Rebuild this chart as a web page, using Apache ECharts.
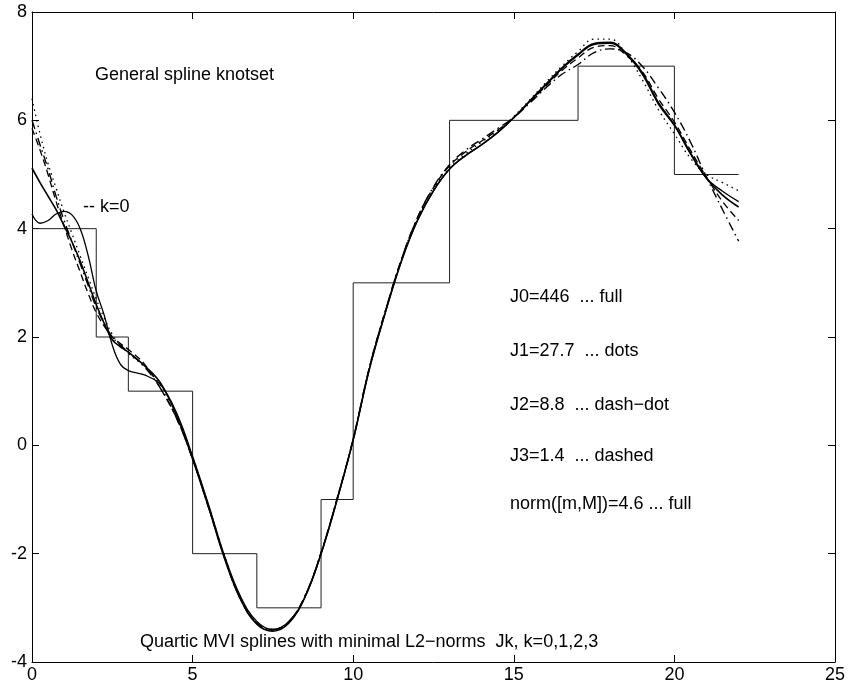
<!DOCTYPE html>
<html lang="en">
<head>
    <meta charset="UTF-8">
    <script src="https://cdn.jsdelivr.net/npm/echarts@6/dist/echarts.min.js"></script>
    <title>Quartic MVI splines</title>
</head>
<style>
    body{
        width: 100%;
        height: 100%;
        margin: 0;
        padding: 0;
        background: #fff;
    }
</style>
<body>
<div id="chart" style="width: 848px;height:689px;"></div>
</body>
<script>
    // knotset: step function (value holds from x to next x)
    var stepX = [0, 2, 3, 5, 7, 9, 10, 13, 17, 20, 22];
    var stepY = [4, 2, 1, -2, -3, -1, 3, 6, 7, 5, 5];

    // sample points of the spline curves
    var xs = [0, 0.25, 0.5, 0.75, 1, 1.25, 1.5, 1.75, 2, 2.25, 2.5, 2.75, 3,
        3.5, 4, 4.5, 5, 5.5, 6, 6.5, 7, 7.5, 8, 8.5, 9, 9.5, 10, 10.5, 11, 11.5,
        12, 12.5, 13, 13.5, 14, 14.5, 15, 15.5, 16, 16.5, 17, 17.5, 18, 18.5,
        19, 19.5, 20, 20.5, 21, 21.5, 22];

    // J0 ... full
    var j0 = [4.27, 4.1, 4.15, 4.27, 4.32, 4.25, 4.0, 3.5, 2.85, 2.4, 1.85, 1.5, 1.38,
        1.3, 1.12, 0.6, -0.2, -1.1, -2.05, -2.8, -3.25, -3.4, -3.25, -2.8, -2.0, -1.0, 0.1, 1.4, 2.45, 3.4,
        4.15, 4.7, 5.1, 5.35, 5.55, 5.77, 6.05, 6.35, 6.65, 6.95, 7.2, 7.4, 7.42, 7.22,
        6.85, 6.3, 5.9, 5.38, 4.93, 4.69, 4.5];
    // J1 ... dots
    var j1 = [6.4, 5.75, 5.2, 4.75, 4.3, 3.9, 3.5, 3.1, 2.7, 2.35, 2.05, 1.85, 1.7,
        1.45, 1.1, 0.55, -0.22, -1.12, -2.05, -2.82, -3.27, -3.42, -3.27, -2.8, -2.0, -1.0, 0.1, 1.42, 2.47, 3.42,
        4.17, 4.72, 5.12, 5.38, 5.6, 5.8, 6.07, 6.38, 6.7, 7.0, 7.27, 7.5, 7.5, 7.22,
        6.75, 6.2, 5.75, 5.3, 5.0, 4.85, 4.7];
    // J2 ... dash-dot
    var j2 = [6.0, 5.55, 5.1, 4.6, 4.15, 3.75, 3.35, 2.95, 2.55, 2.25, 2.0, 1.85, 1.72,
        1.45, 1.05, 0.5, -0.25, -1.15, -2.08, -2.85, -3.28, -3.4, -3.25, -2.78, -1.98, -0.98, 0.12, 1.43, 2.48, 3.43,
        4.2, 4.77, 5.18, 5.45, 5.65, 5.85, 6.05, 6.32, 6.6, 6.85, 7.03, 7.25, 7.32, 7.25,
        7.0, 6.6, 6.15, 5.6, 4.95, 4.35, 3.77];
    // J3 ... dashed
    var j3 = [5.85, 5.45, 5.0, 4.5, 4.05, 3.6, 3.2, 2.8, 2.45, 2.2, 2.0, 1.88, 1.77,
        1.5, 1.05, 0.5, -0.25, -1.15, -2.08, -2.85, -3.28, -3.4, -3.25, -2.78, -1.98, -0.98, 0.12, 1.43, 2.48, 3.43,
        4.2, 4.76, 5.16, 5.42, 5.62, 5.82, 6.05, 6.34, 6.63, 6.92, 7.15, 7.35, 7.38, 7.2,
        6.9, 6.4, 5.97, 5.45, 4.95, 4.5, 4.15];
    // norm([m,M]) ... full
    var jn = [5.12, 4.85, 4.6, 4.35, 4.05, 3.75, 3.4, 3.0, 2.6, 2.25, 1.95, 1.82, 1.72,
        1.47, 1.15, 0.55, -0.25, -1.15, -2.1, -2.85, -3.3, -3.43, -3.28, -2.8, -2.0, -1.0, 0.1, 1.4, 2.45, 3.4,
        4.15, 4.7, 5.1, 5.35, 5.55, 5.78, 6.05, 6.36, 6.67, 6.97, 7.22, 7.42, 7.44, 7.24,
        6.88, 6.33, 5.92, 5.4, 4.93, 4.62, 4.4];

    function pairs(x, y) {
        var out = [];
        for (var i = 0; i < x.length; i++) {
            out.push([x[i], y[i]]);
        }
        return out;
    }

    var font = 'Liberation Sans, Arial, Helvetica, sans-serif';

    function curve(name, y, type, width) {
        return {
            name: name,
            type: 'line',
            data: pairs(xs, y),
            smooth: 0.4,
            showSymbol: false,
            silent: true,
            lineStyle: {color: '#000', width: width, type: type},
            z: 3
        };
    }

    var chart = echarts.init(document.getElementById("chart"));
    var axisCommon = {
        type: 'value',
        axisLine: {show: true, onZero: false, lineStyle: {color: '#000', width: 1}},
        axisTick: {show: true, inside: true, length: 7, lineStyle: {color: '#000'}},
        splitLine: {show: false}
    };
    var option = {
        backgroundColor: '#fff',
        animation: false,
        grid: {left: 32, right: 13, top: 12, bottom: 27},
        xAxis: [
            Object.assign({}, axisCommon, {
                min: 0, max: 25, interval: 5, position: 'bottom',
                axisLabel: {color: '#000', fontSize: 18, fontFamily: font, margin: 4}
            }),
            Object.assign({}, axisCommon, {
                min: 0, max: 25, interval: 5, position: 'top',
                axisLabel: {show: false}
            })
        ],
        yAxis: [
            Object.assign({}, axisCommon, {
                min: -4, max: 8, interval: 2, position: 'left',
                axisLabel: {color: '#000', fontSize: 18, fontFamily: font, margin: 5}
            }),
            Object.assign({}, axisCommon, {
                min: -4, max: 8, interval: 2, position: 'right',
                axisLabel: {show: false}
            })
        ],
        series: [
            {
                name: 'knotset',
                type: 'line',
                step: 'end',
                data: pairs(stepX, stepY),
                showSymbol: false,
                silent: true,
                lineStyle: {color: '#222', width: 1},
                z: 2
            },
            curve('J0', j0, 'solid', 1.3),
            curve('J1', j1, [1.5, 4], 1.3),
            curve('J2', j2, [9, 4, 1.5, 4], 1.4),
            curve('J3', j3, [7, 4], 1.3),
            curve('norm', jn, 'solid', 1.6)
        ],
        graphic: [
            {type: 'text', left: 95, top: 66, style: {text: 'General spline knotset', font: '18px ' + font, fill: '#000'}},
            {type: 'text', left: 83, top: 198, style: {text: '-- k=0', font: '18px ' + font, fill: '#000'}},
            {type: 'text', left: 510, top: 288, style: {text: 'J0=446  ... full', font: '18px ' + font, fill: '#000'}},
            {type: 'text', left: 510, top: 342, style: {text: 'J1=27.7  ... dots', font: '18px ' + font, fill: '#000'}},
            {type: 'text', left: 510, top: 396, style: {text: 'J2=8.8  ... dash\u2212dot', font: '18px ' + font, fill: '#000'}},
            {type: 'text', left: 510, top: 447, style: {text: 'J3=1.4  ... dashed', font: '18px ' + font, fill: '#000'}},
            {type: 'text', left: 510, top: 495, style: {text: 'norm([m,M])=4.6 ... full', font: '18px ' + font, fill: '#000'}},
            {type: 'text', left: 140, top: 633, style: {text: 'Quartic MVI splines with minimal L2\u2212norms  Jk, k=0,1,2,3', font: '18px ' + font, fill: '#000'}}
        ]
    };
    chart.setOption(option);
</script>
</html>
